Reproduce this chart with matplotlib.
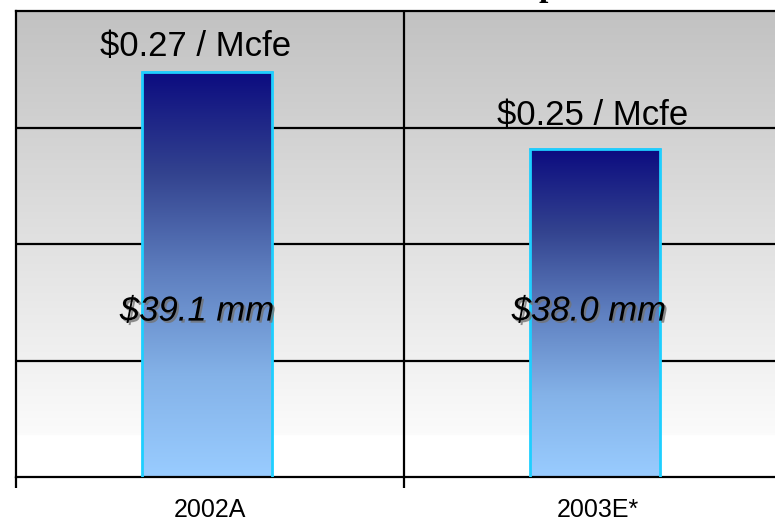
import numpy as np
import matplotlib
matplotlib.use("Agg")
import matplotlib.pyplot as plt
import matplotlib.patheffects as pe
from matplotlib.colors import LinearSegmentedColormap

# ---- data ----
categories = ["2002A", "2003E*"]
cost_per_mcfe = [0.27, 0.25]
per_mcfe_labels = ["$0.27 / Mcfe", "$0.25 / Mcfe"]
totals_mm = [39.1, 38.0]
total_labels = ["$39.1 mm", "$38.0 mm"]

# ---- layout (label nudges) ----
top_label_dx = [-0.036, -0.013]   # data units
top_label_dy = [11.5, 17.0]       # points above the bar top
mid_label_dx = [-0.033, -0.023]

plt.rcParams["font.family"] = ["Liberation Sans", "DejaVu Sans"]

W, H = 775, 524
fig = plt.figure(figsize=(W / 100, H / 100), dpi=100)
ax = fig.add_axes([16 / W, (H - 477) / H, (792 - 16) / W, (477 - 11) / H])

ymin, ymax = 0.1647, 0.2859

# background gradient (gray at top -> white near bottom)
ny = 400
yy = np.linspace(0, 1, ny)  # 0 = bottom, 1 = top
white_cut = (477 - 435) / 466
bg = np.where(yy < white_cut, 1.0, 0.985 - (yy - white_cut) / (1 - white_cut) * (0.985 - 0.76))
bg_img = np.stack([bg, bg, bg], axis=-1)[:, None, :].repeat(2, axis=1)
ax.imshow(bg_img, extent=[0, 1, 0, 1], transform=ax.transAxes, origin="lower",
          aspect="auto", zorder=0, interpolation="bilinear")

# grid lines
for yv in np.linspace(ymin, ymax, 5)[1:-1]:
    ax.axhline(yv, color="black", lw=1.6, zorder=1)
ax.axvline(0.5, color="black", lw=1.6, zorder=1)

# bars with vertical gradient
x = np.arange(len(categories))
bars = ax.bar(x - 0.008, cost_per_mcfe, width=0.335, bottom=0, facecolor="none",
              edgecolor="#1ECFFF", lw=2.0, zorder=3)
cmap = LinearSegmentedColormap.from_list(
    "barg", [(0.0, "#99CCFF"), (0.25, "#84B2E8"), (0.5, "#5F80C0"),
             (0.75, "#33438F"), (1.0, "#0C0C80")])
grad = np.linspace(0, 1, 256)[:, None]
for b in bars:
    x0, w, h = b.get_x(), b.get_width(), b.get_height()
    ax.imshow(grad, cmap=cmap, origin="lower", aspect="auto",
              extent=[x0, x0 + w, ymin, h], zorder=2, interpolation="bilinear")
    ax.plot([x0, x0 + w], [h, h], color="#000080", lw=1, zorder=2.5)
ax.set_xlim(-0.5, 1.5)
ax.set_ylim(ymin, ymax)

# labels
for xi, v, lab, dx, dy in zip(x, cost_per_mcfe, per_mcfe_labels, top_label_dx, top_label_dy):
    ax.annotate(lab, (xi + dx, v), xytext=(0, dy), textcoords="offset points",
                ha="center", va="baseline", fontsize=25, color="black", zorder=5)

shadow = [pe.SimplePatchShadow(offset=(1.5, -1.5), shadow_rgbFace=(0.45, 0.45, 0.45), alpha=0.8),
          pe.Normal()]
for xi, lab, dx in zip(x, total_labels, mid_label_dx):
    ax.text(xi + dx, 0.356, lab, ha="center", va="center", fontsize=25,
            style="italic", color="black", zorder=5, path_effects=shadow,
            transform=ax.get_xaxis_transform())

# axes styling
for s in ["left", "top", "bottom"]:
    ax.spines[s].set_color("black")
    ax.spines[s].set_linewidth(1.6)
ax.spines["right"].set_visible(False)
ax.set_yticks([])
ax.set_xticks([-0.5, 0.5, 1.5])
ax.set_xticklabels([])
ax.tick_params(axis="x", which="major", length=8, width=1.6, color="black")
ax.set_xticks(x, minor=True)
ax.set_xticklabels(categories, minor=True, fontsize=18)
ax.tick_params(axis="x", which="minor", length=0, pad=15)

# partially visible title (only a descender shows above the frame)
fig.text(548 / W, 1 + 4 / H, "p", ha="center", va="baseline", fontsize=24,
         family=["Liberation Serif", "DejaVu Serif"], weight="bold", color="black")

fig.savefig("out.png", dpi=100)
